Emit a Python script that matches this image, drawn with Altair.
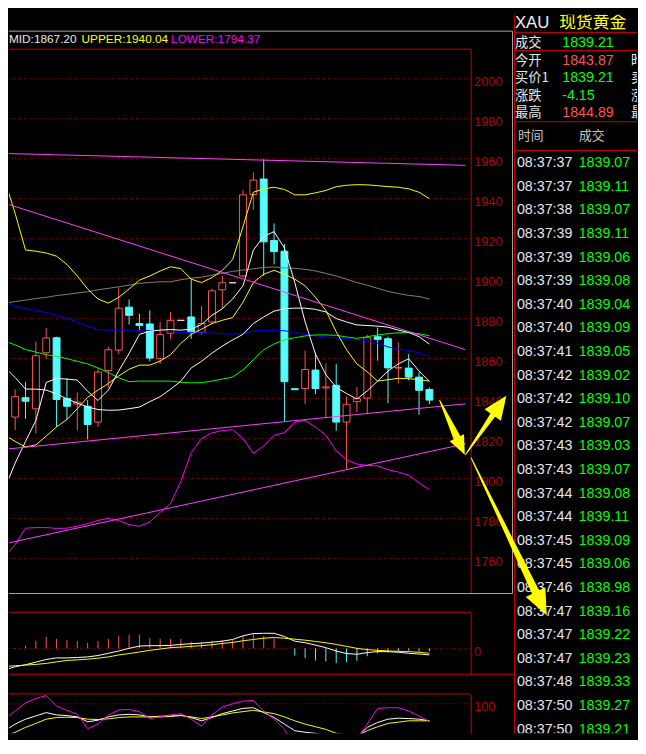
import altair as alt
import pandas as pd

# ------------------------------------------------------------------ data
idx = list(range(42))
opens = [1816.0, 1830.7, 1840.4, 1834.8, 1862.9, 1870.4, 1840.0, 1837.2, 1836.1, 1828.2,
         1854.0, 1864.2, 1885.7, 1877.5, 1877.3, 1859.9, 1872.7, 1879.1, 1880.8, 1873.1,
         1878.3, 1894.4, 1897.9, 1901.3, 1942.1, 1949.8, 1919.1, 1913.7, 1844.9, 1845.0,
         1854.2, 1845.3, 1846.6, 1828.2, 1838.4, 1840.2, 1870.9, 1869.9, 1855.2, 1855.2,
         1850.7, 1844.5]
highs = [1833.0, 1844.6, 1848.4, 1868.5, 1875.4, 1870.9, 1850.1, 1843.0, 1839.2, 1855.3,
         1866.0, 1895.6, 1889.5, 1882.4, 1884.1, 1878.3, 1883.3, 1879.1, 1900.0, 1886.2,
         1894.8, 1901.3, 1897.9, 1944.4, 1953.1, 1959.7, 1927.6, 1917.3, 1845.0, 1864.0,
         1863.0, 1857.5, 1857.3, 1840.9, 1845.8, 1871.8, 1875.5, 1870.9, 1868.0, 1862.2,
         1853.2, 1845.5]
lows = [1812.0, 1824.1, 1829.8, 1822.4, 1859.9, 1825.7, 1829.4, 1824.1, 1819.5, 1825.7,
        1845.5, 1862.2, 1877.0, 1873.9, 1858.6, 1857.3, 1869.8, 1879.1, 1869.8, 1872.1,
        1877.0, 1884.9, 1897.9, 1900.5, 1934.2, 1901.3, 1907.1, 1828.5, 1844.3, 1837.2,
        1842.2, 1830.2, 1823.8, 1804.5, 1833.1, 1832.3, 1858.9, 1837.6, 1847.6, 1849.1,
        1831.8, 1837.2]
closes = [1830.7, 1840.9, 1838.6, 1861.4, 1870.3, 1839.5, 1836.1, 1838.2, 1827.0, 1853.2,
          1864.4, 1885.2, 1881.6, 1876.5, 1860.2, 1872.1, 1879.1, 1879.1, 1873.1, 1877.5,
          1893.9, 1897.9, 1897.9, 1941.9, 1949.3, 1918.4, 1913.5, 1848.4, 1844.4, 1854.5,
          1845.0, 1845.8, 1828.2, 1837.1, 1840.0, 1870.4, 1869.6, 1855.3, 1855.5, 1850.7,
          1844.1, 1839.2]

upper = [1949.0, 1932.6, 1914.3, 1913.7, 1912.8, 1911.2, 1907.1, 1901.3, 1894.8, 1889.8,
         1887.7, 1890.6, 1894.8, 1899.2, 1901.3, 1903.8, 1905.9, 1905.0, 1899.7, 1898.0,
         1900.5, 1904.1, 1909.5, 1926.0, 1943.2, 1944.9, 1945.7, 1944.6, 1941.9, 1941.9,
         1942.9, 1944.1, 1946.0, 1946.7, 1947.0, 1946.9, 1946.5, 1946.0, 1945.7, 1944.9,
         1943.2, 1940.0]
mid = [1855.6, 1850.5, 1844.7, 1844.7, 1844.2, 1842.3, 1839.8, 1837.7, 1835.7, 1834.5,
       1834.1, 1834.2, 1834.9, 1835.7, 1838.4, 1840.9, 1844.6, 1848.7, 1855.3, 1858.6,
       1862.7, 1866.2, 1869.3, 1872.1, 1877.5, 1880.8, 1883.7, 1884.9, 1885.2, 1885.2,
       1884.6, 1883.3, 1880.0, 1878.3, 1876.8, 1876.5, 1876.2, 1875.7, 1874.2, 1873.1,
       1870.9, 1867.2]
lower = [1760.8, 1766.9, 1775.1, 1775.4, 1775.4, 1775.0, 1775.1, 1776.1, 1777.4, 1779.0,
         1780.0, 1778.9, 1776.9, 1776.1, 1778.2, 1783.0, 1787.3, 1798.6, 1812.9, 1820.0,
         1822.8, 1823.9, 1824.4, 1820.0, 1812.6, 1816.2, 1821.6, 1822.9, 1828.2, 1829.0,
         1825.7, 1821.6, 1813.9, 1809.3, 1807.2, 1806.5, 1806.3, 1804.4, 1803.2, 1801.6,
         1797.8, 1794.4]
ma5 = [1795.0, 1807.7, 1818.5, 1829.0, 1848.0, 1850.0, 1849.7, 1849.2, 1843.6, 1839.0,
       1844.2, 1853.8, 1862.5, 1872.1, 1873.7, 1874.2, 1874.5, 1874.2, 1874.7, 1877.0,
       1881.6, 1884.9, 1889.8, 1896.4, 1914.2, 1921.1, 1923.5, 1915.3, 1898.0, 1878.3,
       1862.2, 1852.0, 1845.5, 1842.5, 1839.7, 1843.8, 1848.7, 1853.7, 1857.3, 1859.9,
       1853.7, 1848.7]
ma10 = [1821.7, 1818.5, 1815.7, 1816.8, 1821.2, 1825.8, 1829.5, 1834.9, 1840.6, 1844.2,
        1847.5, 1851.3, 1854.6, 1856.7, 1856.7, 1858.7, 1861.9, 1867.6, 1872.1, 1874.7,
        1877.5, 1879.1, 1880.5, 1888.2, 1898.0, 1902.2, 1904.1, 1902.2, 1899.7, 1896.4,
        1890.6, 1884.1, 1873.4, 1864.4, 1857.3, 1853.3, 1848.7, 1849.4, 1850.1, 1849.9,
        1849.4, 1848.7]
ma_green = [1868.8, 1866.8, 1864.5, 1863.2, 1861.9, 1861.1, 1859.9, 1858.6, 1857.3, 1855.3,
            1852.9, 1850.4, 1848.4, 1848.7, 1848.7, 1848.7, 1848.7, 1848.1, 1847.8, 1847.9,
            1848.7, 1849.7, 1850.7, 1854.3, 1859.4, 1864.4, 1867.3, 1869.4, 1870.4, 1871.3,
            1871.8, 1871.8, 1871.6, 1870.8, 1870.1, 1870.9, 1871.8, 1872.4, 1872.9, 1872.9,
            1872.4, 1871.4]
ma_blue = [1887.9, 1886.2, 1884.9, 1884.1, 1882.9, 1881.6, 1880.0, 1878.3, 1876.2, 1874.5,
           1874.2, 1874.2, 1874.2, 1874.2, 1874.0, 1873.9, 1873.4, 1873.1, 1873.1, 1872.9,
           1872.7, 1872.4, 1872.2, 1872.6, 1873.7, 1874.1, 1874.2, 1873.9, 1873.1, 1872.1,
           1871.4, 1870.8, 1870.3, 1869.9, 1869.6, 1868.8, 1867.6, 1865.8, 1864.8, 1864.0,
           1862.9, 1861.1]
ma_gray = [1887.7, 1888.5, 1889.2, 1890.0, 1890.6, 1891.5, 1892.1, 1892.8, 1893.4, 1894.4,
           1895.1, 1895.9, 1896.7, 1897.6, 1898.0, 1898.4, 1898.4, 1899.4, 1900.2, 1900.7,
           1901.7, 1902.6, 1903.6, 1904.3, 1904.9, 1905.6, 1905.8, 1905.4, 1905.1, 1904.6,
           1903.8, 1902.6, 1901.3, 1899.7, 1898.0, 1896.7, 1895.1, 1893.6, 1892.5, 1891.6,
           1891.0, 1889.8]

# hand-drawn trend lines: (name, start index, start price, end index, end price)
trend_lines = [("t1", 0, 1962.6, 44.5, 1956.67),
               ("t2", 0, 1937.7, 44.5, 1864.42),
               ("t3", 0, 1814.6, 44.5, 1837.34),
               ("t4", 0, 1767.3, 44.5, 1817.34)]

# yellow annotation arrows (index / price units)
arrow_shafts = [("a1", 0, 41.995, 1838.97, 1), ("a1", 1, 43.763, 1819.26, 8),
                ("a2", 0, 44.479, 1811.87, 1), ("a2", 1, 47.253, 1832.66, 6),
                ("a3", 0, 45.037, 1810.25, 1), ("a3", 1, 51.344, 1742.17, 8)]
arrow_heads = [("a1", 44.033, 1816.11, 361, 154.7),
               ("a2", 47.772, 1836.60, 576, 35.2),
               ("a3", 51.791, 1737.34, 676, 153.9)]

macd_bar = [-1.0, -0.3, 2.7, 7.7, 11.7, 9.7, 8.3, 7.3, 5.7, 7.3, 9.7, 12.7, 14.0, 14.0,
            10.7, 9.7, 9.7, 9.7, 6.7, 6.7, 7.3, 8.3, 8.3, 12.7, 14.7, 12.7, 10.0, 0.5,
            -7.3, -10.0, -12.3, -13.3, -15.0, -14.0, -12.7, -8.0, -5.0, -4.3, -2.7, -2.3,
            -3.3, -3.0]
dif = [-21.7, -18.7, -16.7, -14.0, -11.3, -9.7, -9.7, -9.3, -8.7, -7.3, -5.0, -2.7, 0.0,
       2.3, 2.7, 2.7, 3.0, 4.0, 4.7, 5.3, 6.3, 7.3, 9.0, 12.7, 15.0, 15.3, 15.3, 12.0, 7.3,
       5.7, 3.3, 0.7, -2.7, -5.3, -6.0, -4.3, -3.3, -3.3, -4.0, -5.0, -5.7, -6.7]
dea = [-18.3, -17.7, -17.0, -16.3, -15.3, -13.7, -12.3, -11.7, -11.0, -10.0, -8.7, -6.7,
       -5.3, -3.7, -2.0, -0.7, 0.7, 1.3, 2.0, 2.7, 3.7, 5.0, 6.0, 7.7, 9.0, 10.3, 11.0,
       10.3, 9.3, 8.3, 7.0, 5.7, 4.0, 2.0, 0.0, -1.3, -2.0, -2.7, -3.0, -3.3, -4.0, -5.0]

kdj_j = [63.6, 82.9, 102.3, 112.4, 119.4, 94.6, 84.5, 75.2, 41.1, 51.9, 72.9, 85.3, 86.8,
         81.4, 65.1, 69.0, 73.6, 76.7, 63.6, 47.3, 73.6, 92.2, 100.0, 106.2, 107.8, 82.9,
         63.6, 40.3, 0.0, -2.3, -6.2, -6.2, -8.5, 3.9, 18.6, 51.9, 89.1, 90.7, 90.7, 82.9,
         71.3, 58.1]
kdj_k = [36.4, 51.9, 63.6, 71.3, 79.1, 73.6, 72.1, 69.0, 57.4, 61.2, 69.0, 73.6, 75.2,
         73.6, 69.0, 70.5, 71.3, 72.9, 67.4, 59.7, 67.4, 76.7, 82.9, 89.1, 90.7, 79.1, 67.4,
         51.9, 36.4, 32.6, 30.2, 24.8, 14.7, 15.5, 20.9, 44.2, 55.8, 63.6, 65.9, 65.1, 63.6,
         59.7]
kdj_d = [22.5, 32.6, 44.2, 53.5, 63.6, 67.4, 68.2, 67.4, 63.6, 62.8, 64.3, 67.4, 69.0,
         69.0, 69.0, 69.0, 69.8, 72.1, 69.0, 65.1, 69.0, 73.6, 78.3, 81.4, 84.5, 80.6, 76.7,
         69.0, 59.7, 51.9, 45.7, 39.5, 30.2, 27.1, 24.0, 36.4, 45.7, 53.5, 56.6, 59.7, 59.7,
         59.7]

price_ticks = list(range(1760, 2001, 20))
macd_ticks = [0]
kdj_ticks = [100]

boll_header = [("MID", 1867.20), ("UPPER", 1940.04), ("LOWER", 1794.37)]

quote_symbol = "XAU"
quote_name = "现货黄金"
info_labels = ["成交", "今开", "买价1", "涨跌", "最高"]
info_values = [1839.21, 1843.87, 1839.21, -4.15, 1844.89]
info_labels2 = ["", "昨收", "卖价1", "涨幅", "最低"]
prev_close = 1843.36
list_headers = ["时间", "成交"]

trade_times = ["08:37:37", "08:37:37", "08:37:38", "08:37:39", "08:37:39", "08:37:39",
               "08:37:40", "08:37:40", "08:37:41", "08:37:42", "08:37:42", "08:37:42",
               "08:37:43", "08:37:43", "08:37:44", "08:37:44", "08:37:45", "08:37:45",
               "08:37:46", "08:37:47", "08:37:47", "08:37:47", "08:37:48", "08:37:50",
               "08:37:50"]
trade_prices = [1839.07, 1839.11, 1839.07, 1839.11, 1839.06, 1839.08, 1839.04, 1839.09,
                1839.05, 1839.02, 1839.10, 1839.07, 1839.03, 1839.07, 1839.08, 1839.11,
                1839.09, 1839.06, 1838.98, 1839.16, 1839.22, 1839.23, 1839.33, 1839.27,
                1839.21]

# ------------------------------------------------------------------ layout / styles
W_ALL, H_ALL = 638, 730
PLOT_W = 469
RP = 513                     # left edge of the quote panel
RED = "#CC0000"
GRID_RED = "#A80000"
LABEL_RED = "#B80000"
GRAY = "#A8A8A8"
UP_RED = "#FF5454"
DOWN_CYAN = "#54FCFC"
SANS = "Liberation Sans, Arial, sans-serif"
CJK = "Noto Sans CJK SC, sans-serif"
HEAD_PATH = "M0,-1L0.85,1L-0.85,1Z"

one = pd.DataFrame({"z": [0]})

x_sc = alt.Scale(domain=[0.879, 44.507], range=[0, PLOT_W], nice=False, zero=False)
price_sc = alt.Scale(domain=[1742.9, 2014.8], range=[587, 35], nice=False, zero=False)
macd_sc = alt.Scale(domain=[-26.3, 36.7], range=[670, 607], nice=False, zero=False)
kdj_sc = alt.Scale(domain=[30.2, 123.26], range=[730, 690], nice=False, zero=False)
info_sc = alt.Scale(domain=[0, 4], range=[29.3, 100.3], nice=False, zero=False)
trade_sc = alt.Scale(domain=[0, 24], range=[151, 726.3], nice=False, zero=False)


def X():
    return alt.X("i:Q", scale=x_sc, axis=None)


def Yq(field, sc):
    return alt.Y(f"{field}:Q", scale=sc, axis=None)


def side_axis(values):
    return alt.Axis(orient="right", offset=-(W_ALL - PLOT_W), values=values, format="d",
                    grid=False, domain=True, domainColor=RED, domainWidth=1, ticks=False,
                    tickSize=0, labelColor=LABEL_RED, labelFont=SANS, labelFontSize=13,
                    labelPadding=3, labelAlign="left", labelBaseline="middle", labelOffset=3,
                    labelFlush=False, labelOverlap=False, title=None)


def rule(color, **enc):
    return alt.Chart(one).mark_rule(color=color, strokeWidth=1).encode(**enc)


def grid_layer(ticks, sc):
    return alt.Chart(pd.DataFrame({"g": ticks})).mark_rule(
        color=GRID_RED, strokeDash=[1, 2], strokeWidth=1).encode(
        x=alt.value(0), x2=alt.value(PLOT_W),
        y=alt.Y("g:Q", scale=sc, axis=side_axis(ticks)))


layers = [grid_layer(price_ticks, price_sc), grid_layer(macd_ticks, macd_sc),
          grid_layer(kdj_ticks, kdj_sc)]

# frames
layers += [
    rule(GRAY, x=alt.value(0), x2=alt.value(511.5), y=alt.value(16.7)),
    rule(GRAY, x=alt.value(511.5), y=alt.value(16.7), y2=alt.value(588)),
    rule(GRAY, x=alt.value(0), x2=alt.value(511.5), y=alt.value(588)),
    rule(RED, x=alt.value(0), x2=alt.value(PLOT_W), y=alt.value(35)),
    rule(RED, x=alt.value(0), x2=alt.value(PLOT_W), y=alt.value(607)),
    rule(RED, x=alt.value(0), x2=alt.value(512), y=alt.value(670)),
    rule(RED, x=alt.value(0), x2=alt.value(PLOT_W), y=alt.value(690)),
    rule(RED, x=alt.value(RP + 0.5), y=alt.value(0), y2=alt.value(H_ALL)),
    rule(RED, x=alt.value(RP), x2=alt.value(W_ALL), y=alt.value(18)),
    rule(RED, x=alt.value(RP), x2=alt.value(W_ALL), y=alt.value(36.3)),
    rule(RED, x=alt.value(RP), x2=alt.value(W_ALL), y=alt.value(108.7)),
    rule(RED, x=alt.value(RP), x2=alt.value(W_ALL), y=alt.value(138)),
]

# ------------------------------------------------------------------ candles
candles = pd.DataFrame({"i": idx, "open": opens, "high": highs, "low": lows, "close": closes})
candles["dir"] = ["up" if c > o else ("down" if c < o else "flat")
                  for o, c in zip(opens, closes)]
dir_dom = ["up", "down", "flat"]
stroke_dir = alt.Stroke("dir:N", scale=alt.Scale(domain=dir_dom, range=[UP_RED, DOWN_CYAN, "#E0E0E0"]),
                        legend=None)
layers.append(alt.Chart(candles).mark_rule(clip=True, strokeWidth=1).encode(
    x=X(), y=Yq("low", price_sc), y2="high", stroke=stroke_dir))
layers.append(alt.Chart(candles).mark_bar(clip=True, size=7, strokeWidth=1).encode(
    x=X(), y=Yq("open", price_sc), y2="close",
    fill=alt.Fill("dir:N", scale=alt.Scale(domain=dir_dom, range=["#000000", DOWN_CYAN, "#E0E0E0"]),
                  legend=None),
    stroke=stroke_dir))

# moving averages / bollinger
series = [("MA60", ma_gray, "#808080"), ("MA30", ma_blue, "#0000FF"),
          ("MA20", ma_green, "#00FF00"), ("MA10", ma10, "#FFFF00"),
          ("UPPER", upper, "#FFFF00"), ("LOWER", lower, "#FF00FF"),
          ("MID", mid, "#FFFFFF"), ("MA5", ma5, "#FFFFFF")]
ma_df = pd.DataFrame([{"series": n, "i": i, "value": v}
                      for n, vals, _ in series for i, v in zip(idx, vals)])
layers.append(alt.Chart(ma_df).mark_line(clip=True, strokeWidth=1).encode(
    x=X(), y=Yq("value", price_sc),
    color=alt.Color("series:N", scale=alt.Scale(domain=[s[0] for s in series],
                                                range=[s[2] for s in series]), legend=None)))

tl_df = pd.DataFrame([r for n, i0, p0, i1, p1 in trend_lines
                      for r in ({"name": n, "i": i0, "p": p0}, {"name": n, "i": i1, "p": p1})])
layers.append(alt.Chart(tl_df).mark_line(clip=True, color="#FF40FF", strokeWidth=1).encode(
    x=X(), y=Yq("p", price_sc), detail="name:N"))

# ------------------------------------------------------------------ MACD
macd_df = pd.DataFrame({"i": idx, "bar": macd_bar, "zero": [0.0] * len(idx)})
macd_df["sign"] = ["pos" if b >= 0 else "neg" for b in macd_bar]
layers.append(alt.Chart(macd_df).mark_rule(clip=True, strokeWidth=1).encode(
    x=X(), y=Yq("zero", macd_sc), y2="bar",
    stroke=alt.Stroke("sign:N", scale=alt.Scale(domain=["pos", "neg"], range=[UP_RED, DOWN_CYAN]),
                      legend=None)))
macd_lines_df = pd.DataFrame(
    [{"line": "DIF", "i": i, "v": v} for i, v in zip(idx, dif)] +
    [{"line": "DEA", "i": i, "v": v} for i, v in zip(idx, dea)])
layers.append(alt.Chart(macd_lines_df).mark_line(clip=True, strokeWidth=1).encode(
    x=X(), y=Yq("v", macd_sc),
    color=alt.Color("line:N", scale=alt.Scale(domain=["DIF", "DEA"], range=["#FFFFFF", "#FFFF00"]),
                    legend=None)))

# ------------------------------------------------------------------ KDJ
kdj_df = pd.DataFrame(
    [{"line": "K", "i": i, "v": v} for i, v in zip(idx, kdj_k)] +
    [{"line": "D", "i": i, "v": v} for i, v in zip(idx, kdj_d)] +
    [{"line": "J", "i": i, "v": v} for i, v in zip(idx, kdj_j)])
layers.append(alt.Chart(kdj_df).mark_line(clip=True, strokeWidth=1).encode(
    x=X(), y=Yq("v", kdj_sc),
    color=alt.Color("line:N", scale=alt.Scale(domain=["K", "D", "J"],
                                              range=["#FFFFFF", "#FFFF00", "#FF00FF"]), legend=None)))

# ------------------------------------------------------------------ header texts
head_colors = {"MID": "#E8E8E8", "UPPER": "#FFFF00", "LOWER": "#FF00FF"}
head_x = {"MID": 0, "UPPER": 73.7, "LOWER": 164.7}
for name, val in boll_header:
    layers.append(alt.Chart(one).mark_text(
        text=f"{name}:{val:.2f}", align="left", baseline="middle", font=SANS, fontSize=12,
        color=head_colors[name], clip=True).encode(x=alt.value(head_x[name]), y=alt.value(25)))

# ------------------------------------------------------------------ quote panel
info_df = pd.DataFrame({"r": list(range(len(info_labels))), "label": info_labels,
                        "label2": info_labels2, "value": [f"{v:.2f}" for v in info_values]})
info_df["updown"] = ["up" if (v > 0 if lab == "涨跌" else v > prev_close) else "down"
                     for lab, v in zip(info_labels, info_values)]
trades_df = pd.DataFrame({"k": list(range(len(trade_times))), "time": trade_times,
                          "price": [f"{p:.2f}" for p in trade_prices]})

layers += [
    alt.Chart(one).mark_text(text=quote_symbol, align="left", baseline="middle", font=SANS,
                             fontSize=17, color="#F0F0F0", clip=True).encode(
        x=alt.value(RP + 1), y=alt.value(8)),
    alt.Chart(one).mark_text(text=quote_name, align="left", baseline="middle", font=CJK,
                             fontSize=17, color="#FFFF00", clip=True).encode(
        x=alt.value(RP + 46), y=alt.value(8)),
    alt.Chart(info_df).mark_text(align="left", baseline="middle", font=CJK, fontSize=13.5,
                                 color="#E8E8E8", clip=True).encode(
        x=alt.value(RP + 1), y=Yq("r", info_sc), text="label:N"),
    alt.Chart(info_df).mark_text(align="left", baseline="middle", font=SANS, fontSize=14.5,
                                 clip=True).encode(
        x=alt.value(RP + 49), y=Yq("r", info_sc), text="value:N",
        color=alt.Color("updown:N", scale=alt.Scale(domain=["up", "down"], range=[UP_RED, "#00FF00"]),
                        legend=None)),
    alt.Chart(info_df).mark_text(align="left", baseline="middle", font=CJK, fontSize=13.5,
                                 color="#E8E8E8", clip=True).encode(
        x=alt.value(RP + 119), y=Yq("r", info_sc), text="label2:N"),
    alt.Chart(one).mark_text(text=list_headers[0], align="left", baseline="middle", font=CJK,
                             fontSize=13, color="#C8C8C8", clip=True).encode(
        x=alt.value(RP + 4), y=alt.value(123.7)),
    alt.Chart(one).mark_text(text=list_headers[1], align="left", baseline="middle", font=CJK,
                             fontSize=13, color="#C8C8C8", clip=True).encode(
        x=alt.value(RP + 66), y=alt.value(123.7)),
    alt.Chart(trades_df).mark_text(align="left", baseline="middle", font=SANS, fontSize=14.5,
                                   color="#E4E6F4", clip=True).encode(
        x=alt.value(RP + 3), y=Yq("k", trade_sc), text="time:N"),
    alt.Chart(trades_df).mark_text(align="left", baseline="middle", font=SANS, fontSize=14.5,
                                   color="#00FF00", clip=True).encode(
        x=alt.value(RP + 65.7), y=Yq("k", trade_sc), text="price:N"),
]

# ------------------------------------------------------------------ arrows (on top)
shaft_df = pd.DataFrame(arrow_shafts, columns=["arrow", "k", "i", "p", "w"])
head_df = pd.DataFrame(arrow_heads, columns=["arrow", "i", "p", "area", "ang"])
layers.append(alt.Chart(shaft_df).mark_trail(color="#FFFF00", clip=True).encode(
    x=X(), y=Yq("p", price_sc), size=alt.Size("w:Q", scale=None, legend=None),
    order=alt.Order("k:Q"), detail="arrow:N"))
layers.append(alt.Chart(head_df).mark_point(
    shape=HEAD_PATH, filled=True, color="#FFFF00", opacity=1, strokeWidth=0, clip=True).encode(
    x=X(), y=Yq("p", price_sc), size=alt.Size("area:Q", scale=None, legend=None),
    angle=alt.Angle("ang:Q", scale=None)))

chart = alt.layer(*layers).resolve_scale(
    y="independent", color="independent", stroke="independent", fill="independent",
    size="independent"
).properties(
    width=W_ALL, height=H_ALL, background="#000000",
    padding={"left": 0, "top": 0, "right": 0, "bottom": 0}
).configure_view(stroke=None)

chart.save("out.html", embed_options={"renderer": "svg", "actions": False})
